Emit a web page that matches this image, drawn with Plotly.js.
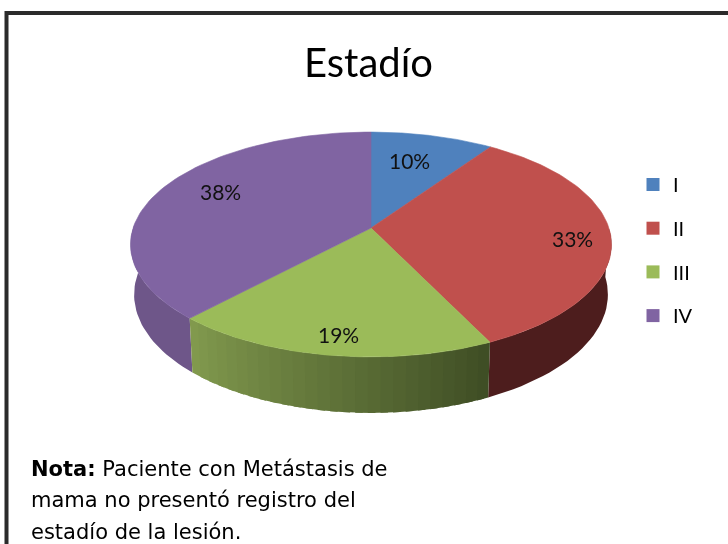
<!DOCTYPE html>
<html>
<head>
<meta charset="utf-8">
<script src="https://cdn.plot.ly/plotly-3.0.1.min.js"></script>
<style>html,body{margin:0;padding:0;background:#fff;overflow:hidden}#c{width:728px;height:544px;filter:blur(0.6px)}</style>
</head>
<body>
<div id="c"></div>
<script>
const categories = ['I', 'II', 'III', 'IV'];
const counts = [2, 7, 4, 8];
const percentLabels = ['10%', '33%', '19%', '38%'];
const topColors = ['#4f81bd', '#c0504d', '#9bbb59', '#8064a2'];
const titleText = 'Estadío';
const noteLines = ['<b>Nota:</b> Paciente con Metástasis de', 'mama no presentó registro del', 'estadío de la lesión.'];

// Chart geometry of the tilted disc, in axis units (the axes span the page).
const CX = 371, CY = 228, A = 237.9, B = 110, K = 0.1467;
const total = counts.reduce((a, b) => a + b, 0);
function rimTop(theta) {
  const X = Math.sin(theta), Y = Math.cos(theta), w = 1 + K * Y;
  return [CX + A * X / w, CY - B * Y / w];
}
function rimBottom(theta) {
  const p = rimTop(theta);
  return [CX + (p[0] - CX) * 0.985, p[1] + 49 - 7 * Math.cos(theta)];
}
const D = Math.PI / 180;
const bounds = [0];
counts.forEach((v, i) => bounds.push(bounds[i] + v / total * 2 * Math.PI));

function steps(a, b, n) { const o = []; for (let i = 0; i <= n; i++) o.push(a + (b - a) * i / n); return o; }
function wall(a, b, color) {
  const ts = steps(a, b, 30);
  const up = ts.map(rimTop), dn = ts.slice().reverse().map(rimBottom);
  const pts = up.concat(dn); pts.push(up[0]);
  return { type: 'scatter', mode: 'lines', x: pts.map(p => p[0]), y: pts.map(p => p[1]), fill: 'toself',
    fillcolor: color, line: { color: color, width: 0 }, hoverinfo: 'skip', showlegend: false };
}
function mix(c1, c2, f) {
  return 'rgb(' + c1.map((v, i) => Math.round(v + (c2[i] - v) * f)).join(',') + ')';
}
const traces = [];
// Side walls (visible parts only)
traces.push(wall(90 * D, bounds[2], '#4d1d1d'));
traces.push(wall(bounds[3], 272 * D, '#6e5689'));
const STRIPS = 26, gLeft = [130, 155, 78], gRight = [62, 76, 36];
for (let i = 0; i < STRIPS; i++) {
  const span = bounds[2] - bounds[3];
  const a = bounds[3] + span * i / STRIPS;
  const b = bounds[3] + span * Math.min(1, (i + 1.6) / STRIPS);
  traces.push(wall(a, b, mix(gLeft, gRight, (i + 0.5) / STRIPS)));
}
// Top faces
categories.forEach((name, i) => {
  const ts = steps(bounds[i], bounds[i + 1], 80);
  const pts = [[CX, CY]].concat(ts.map(rimTop)); pts.push([CX, CY]);
  traces.push({ type: 'scatter', mode: 'lines', name: name, x: pts.map(p => p[0]), y: pts.map(p => p[1]), fill: 'toself',
    fillcolor: topColors[i], line: { color: topColors[i], width: 0.6 }, hoverinfo: 'skip', showlegend: false });
});
// Legend entries
categories.forEach((name, i) => {
  traces.push({ type: 'scatter', mode: 'markers', name: name, legendgroup: name, x: [null], y: [null],
    marker: { symbol: 'square', size: 13, color: topColors[i] }, showlegend: true });
});

const labelSpots = [[409, 160], [572, 238], [338, 334], [220, 191]];
const annotations = percentLabels.map((t, i) => ({
  x: labelSpots[i][0], y: labelSpots[i][1], xref: 'x', yref: 'y', text: t, showarrow: false,
  font: { family: 'Lato', size: 21, color: '#111' }, xanchor: 'center', yanchor: 'middle'
}));
const noteY = [469, 500, 532];
noteLines.forEach((t, i) => annotations.push({
  x: 29, y: noteY[i], xref: 'x', yref: 'y', text: t, showarrow: false, xanchor: 'left', yanchor: 'middle',
  font: { family: 'DejaVu Sans', size: 21, color: '#000' }
}));

const layout = {
  width: 728, height: 544, margin: { l: 0, r: 0, t: 0, b: 0 },
  paper_bgcolor: '#fff', plot_bgcolor: '#fff',
  title: { text: titleText, x: 368.5 / 728, xanchor: 'center', y: 1 - 63 / 544, yanchor: 'middle',
    font: { family: 'Lato', size: 40, color: '#000' } },
  xaxis: { range: [0, 728], visible: false, fixedrange: true },
  yaxis: { range: [544, 0], visible: false, fixedrange: true },
  showlegend: true,
  legend: { x: 633 / 728, xanchor: 'left', y: 1 - 165 / 544, yanchor: 'top', traceorder: 'grouped', tracegroupgap: 14.7,
    bgcolor: 'rgba(0,0,0,0)', borderwidth: 0, font: { family: 'Lato', size: 20, color: '#000' } },
  shapes: [{ type: 'rect', xref: 'x', yref: 'y', x0: 6.5, y0: 13, x1: 780, y1: 600, line: { color: '#2b2b2b', width: 4 }, fillcolor: 'rgba(0,0,0,0)' }],
  annotations: annotations
};
Plotly.newPlot('c', traces, layout, { displayModeBar: false, staticPlot: true });
</script>
</body>
</html>
